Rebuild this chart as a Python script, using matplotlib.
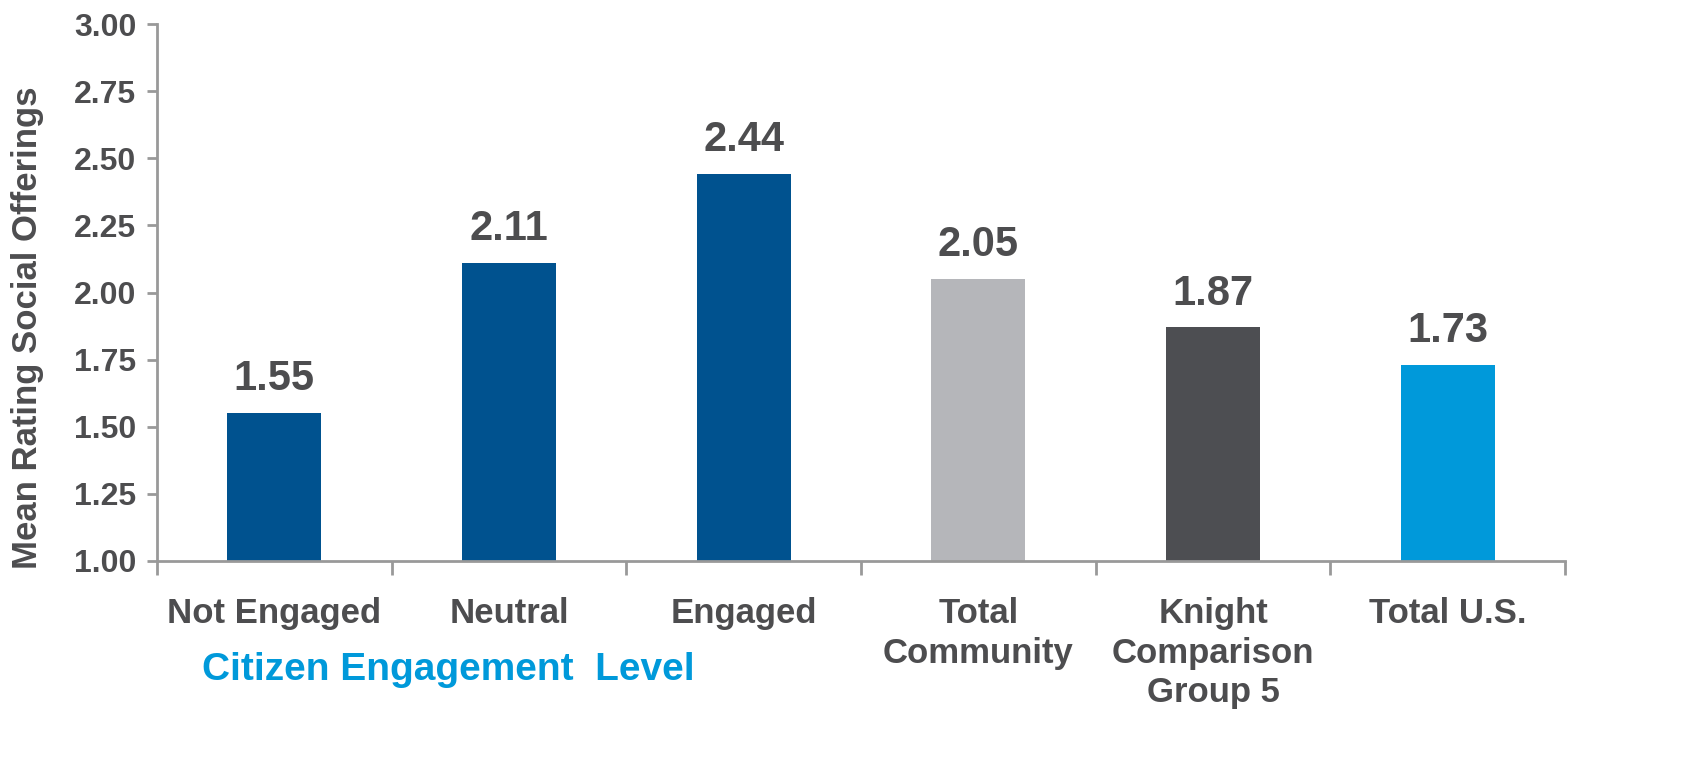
import matplotlib
matplotlib.use("Agg")
import matplotlib.pyplot as plt
import numpy as np

categories = ["Not Engaged", "Neutral", "Engaged", "Total\nCommunity",
              "Knight\nComparison\nGroup 5", "Total U.S."]
values = [1.55, 2.11, 2.44, 2.05, 1.87, 1.73]
colors = ["#00528f", "#00528f", "#00528f", "#b5b6ba", "#4d4e52", "#0099da"]
yticks = [1.00, 1.25, 1.50, 1.75, 2.00, 2.25, 2.50, 2.75, 3.00]

plt.rcParams['font.family'] = ['Liberation Sans', 'DejaVu Sans']
txt = "#4d4d4f"

fig = plt.figure(figsize=(16.85, 7.64), dpi=100)
ax = fig.add_axes([157/1685, 1-561/764, (1565-157)/1685, (561-24)/764])

x = np.arange(len(categories))
ax.bar(x, [v - 1.0 for v in values], bottom=1.0, width=0.40, color=colors)
for xi, v in zip(x, values):
    ax.annotate(f"{v:.2f}", (xi, v), xytext=(0, 10), textcoords="offset points",
                ha="center", va="bottom", fontsize=30, fontweight="bold", color=txt)

ax.set_xlim(-0.5, len(categories) - 0.5)
ax.set_ylim(1.0, 3.0)
ax.set_yticks(yticks)
ax.set_yticklabels([f"{t:.2f}" for t in yticks], fontsize=23, fontweight="bold", color=txt)

ax.set_xticks(np.arange(-0.5, len(categories)), minor=False)
ax.set_xticklabels([])
ax.set_xticks(x, minor=True)
ax.set_xticklabels(categories, minor=True, fontsize=25, fontweight="bold",
                   color=txt, va="top", linespacing=1.25)
ax.tick_params(axis="x", which="minor", length=0, pad=26)
ax.tick_params(axis="x", which="major", length=10, width=2, color="#999999")
ax.tick_params(axis="y", length=7, width=2, color="#999999", pad=8)

for s in ["top", "right"]:
    ax.spines[s].set_visible(False)
for s in ["left", "bottom"]:
    ax.spines[s].set_color("#999999")
    ax.spines[s].set_linewidth(2)

ax.set_ylabel("Mean Rating Social Offerings", fontsize=25, fontweight="bold",
              color=txt, va="center")
ax.yaxis.set_label_coords((28 - 157) / 1408, (561 - 328) / 537)

fig.text(448/1685, 1-670/764, "Citizen Engagement  Level", fontsize=28,
         fontweight="bold", color="#0099da", ha="center", va="center")

fig.savefig("out.png", dpi=100)
